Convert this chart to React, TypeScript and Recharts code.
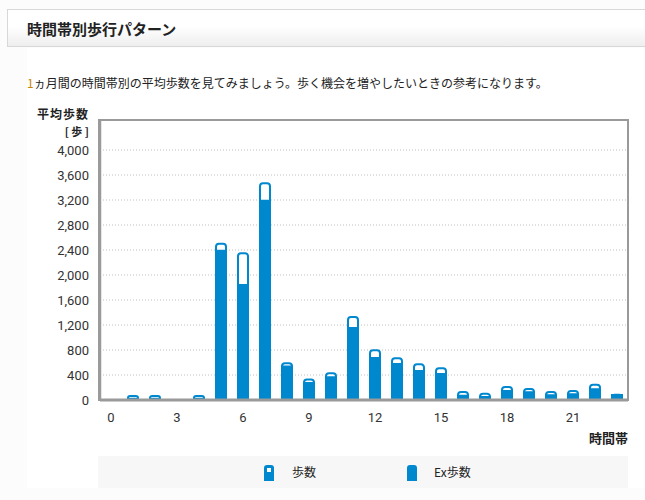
import React from 'react';
import { BarChart, Bar, XAxis, YAxis, CartesianGrid } from 'recharts';

const hours = [0, 1, 2, 3, 4, 5, 6, 7, 8, 9, 10, 11, 12, 13, 14, 15, 16, 17, 18, 19, 20, 21, 22, 23];
const totalSteps = [0, 65, 65, 0, 65, 2500, 2350, 3470, 590, 330, 430, 1330, 795, 667, 571, 507, 128, 101, 208, 176, 128, 144, 245, 85];
const exSteps = [0, 20, 20, 0, 20, 2390, 1840, 3190, 535, 272, 363, 1152, 672, 576, 464, 416, 69, 50, 144, 123, 75, 91, 171, 80];
const yTicks = [0, 400, 800, 1200, 1600, 2000, 2400, 2800, 3200, 3600, 4000];
const xTickHours = [0, 3, 6, 9, 12, 15, 18, 21];

const data = hours.map((h, i) => ({ hour: h, total: totalSteps[i], ex: exSteps[i] }));

const BLUE = '#0088cf';
const BORDER = '#9a9a9a';
const JP = '"Noto Sans CJK JP", "Noto Sans", sans-serif';
const NUM = 'Roboto, "DejaVu Sans", sans-serif';

export default function App() {
  return (
    <div style={{ position: 'absolute', left: 0, top: 0, width: 645, height: 500, background: '#fcfcfc', overflow: 'hidden', fontFamily: JP }}>
      <div style={{ position: 'absolute', left: 27, top: 48, width: 618, height: 440, background: '#ffffff' }} />
      <div style={{ position: 'absolute', left: 7, top: 9, width: 650, height: 38, border: '1px solid #d8d8d8', background: 'linear-gradient(#ffffff 45%, #eeeeee)', boxSizing: 'border-box' }} />
      <div style={{ position: 'absolute', left: 27, top: 18, fontSize: 15, fontWeight: 700, color: '#222', lineHeight: '22px', whiteSpace: 'nowrap' }}>時間帯別歩行パターン</div>
      <div style={{ position: 'absolute', left: 27, top: 74, fontSize: 12, color: '#222', lineHeight: '18px', whiteSpace: 'nowrap' }}>
        <span style={{ color: '#cc8800' }}>1</span>ヵ月間の時間帯別の平均歩数を見てみましょう。歩く機会を増やしたいときの参考になります。
      </div>
      <div style={{ position: 'absolute', left: 28, top: 105, width: 61, textAlign: 'right', fontSize: 12, fontWeight: 700, letterSpacing: 1, color: '#222', lineHeight: '18px', whiteSpace: 'nowrap' }}>平均歩数</div>
      <div style={{ position: 'absolute', left: 28, top: 123, width: 61, textAlign: 'right', fontSize: 11, fontWeight: 700, color: '#222', lineHeight: '16px', whiteSpace: 'pre' }}>[ 歩 ]</div>
      <div style={{ position: 'absolute', left: 560, top: 429, width: 68, textAlign: 'right', fontSize: 13, fontWeight: 700, color: '#222', lineHeight: '18px' }}>時間帯</div>

      <div style={{ position: 'absolute', left: 0, top: 0 }}>
        <BarChart width={645} height={500} data={data} margin={{ top: 120, right: 17, bottom: 70, left: 40 }} barGap={-10}>
          <CartesianGrid vertical={false} stroke="#c0c0c0" strokeDasharray="1 2" />
          <XAxis
            dataKey="hour"
            type="category"
            interval={0}
            height={30}
            tickSize={0}
            tickMargin={13}
            tickLine={false}
            axisLine={{ stroke: BORDER, strokeWidth: 3 }}
            tick={{ fill: '#333', fontSize: 13, fontFamily: NUM }}
            tickFormatter={(v: number) => (xTickHours.includes(v) ? String(v) : '')}
          />
          <YAxis
            type="number"
            domain={[0, 4480]}
            ticks={yTicks}
            width={60}
            tickSize={0}
            tickMargin={11}
            tickLine={false}
            axisLine={{ stroke: BORDER, strokeWidth: 2.5 }}
            tick={{ fill: '#333', fontSize: 13, fontFamily: NUM }}
            tickFormatter={(v: number) => v.toLocaleString('en-US')}
          />
          <Bar dataKey="total" barSize={10} fill="#ffffff" stroke={BLUE} strokeWidth={2} radius={[3, 3, 0, 0]} isAnimationActive={false} />
          <Bar dataKey="ex" barSize={10} fill={BLUE} stroke={BLUE} strokeWidth={2} isAnimationActive={false} />
        </BarChart>
      </div>
      <div style={{ position: 'absolute', left: 98, top: 119, width: 531, height: 282, border: `2.5px solid ${BORDER}`, boxSizing: 'border-box', pointerEvents: 'none' }} />

      <div style={{ position: 'absolute', left: 98, top: 456, width: 530, height: 32, background: '#f7f7f7' }}>
        <div style={{ position: 'absolute', left: 166, top: 9, width: 10, height: 16, background: BLUE, borderRadius: '3px 3px 0 0' }}>
          <div style={{ position: 'absolute', left: 3, top: 3, width: 4, height: 4, background: '#fff' }} />
        </div>
        <div style={{ position: 'absolute', left: 194, top: 7, fontSize: 12, color: '#222', lineHeight: '18px' }}>歩数</div>
        <div style={{ position: 'absolute', left: 309, top: 9, width: 10, height: 16, background: BLUE, borderRadius: '3px 3px 0 0' }} />
        <div style={{ position: 'absolute', left: 336, top: 7, fontSize: 12, color: '#222', lineHeight: '18px' }}>Ex歩数</div>
      </div>
    </div>
  );
}
